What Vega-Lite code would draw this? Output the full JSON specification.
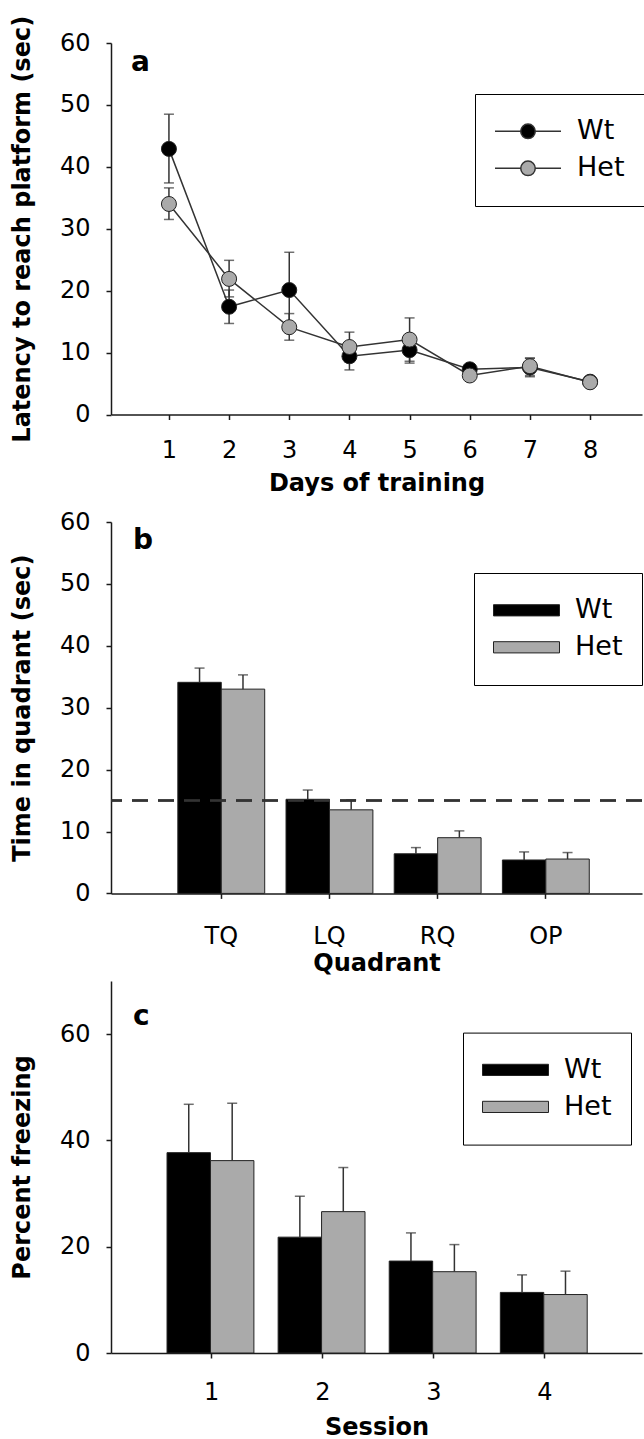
{
  "$schema": "https://vega.github.io/schema/vega-lite/v6.json",
  "padding": {"left": 10, "top": 15, "right": 0, "bottom": 0},
  "spacing": 14,
  "resolve": {"scale": {"fill": "independent"}, "legend": {"fill": "independent"}},
  "config": {
    "font": "DejaVu Sans",
    "view": {"stroke": null},
    "axis": {"grid": false, "domainColor": "#1a1a1a", "domainWidth": 1.5, "tickColor": "#1a1a1a", "tickWidth": 1.5, "tickSize": 5, "labelFont": "DejaVu Sans", "labelFontSize": 24, "labelColor": "#000", "titleFont": "DejaVu Sans", "titleFontSize": 24, "titleFontWeight": "bold", "titleColor": "#000"},
    "axisY": {"labelPadding": 16, "titlePadding": 25},
    "legend": {"labelFont": "DejaVu Sans", "labelFontSize": 27, "labelColor": "#000", "padding": 19, "clipHeight": 36.6, "rowPadding": 0, "labelOffset": 15, "strokeColor": "#000", "fillColor": "#fff", "symbolSize": 4356, "symbolStrokeWidth": 1.5, "symbolOpacity": 1},
    "title": {"font": "DejaVu Sans", "fontSize": 28, "fontWeight": "bold", "color": "#000", "anchor": "start", "frame": "group", "baseline": "alphabetic"}
  },
  "vconcat": [
    {
      "width": 531,
      "height": 371.5,
      "title": {"text": "a", "offset": -62, "dx": 20},
      "data": {"values": [
        {"day": 1, "group": "Wt", "mean": 42.9, "lo": 37.4, "hi": 48.5},
        {"day": 2, "group": "Wt", "mean": 17.4, "lo": 14.7, "hi": 20.1},
        {"day": 3, "group": "Wt", "mean": 20.1, "lo": 14.0, "hi": 26.2},
        {"day": 4, "group": "Wt", "mean": 9.4, "lo": 7.2, "hi": 11.6},
        {"day": 5, "group": "Wt", "mean": 10.4, "lo": 8.3, "hi": 12.5},
        {"day": 6, "group": "Wt", "mean": 7.3, "lo": 6.8, "hi": 7.8},
        {"day": 7, "group": "Wt", "mean": 7.6, "lo": 6.1, "hi": 9.1},
        {"day": 8, "group": "Wt", "mean": 5.3, "lo": 5.0, "hi": 5.6},
        {"day": 1, "group": "Het", "mean": 34.0, "lo": 31.5, "hi": 36.6},
        {"day": 2, "group": "Het", "mean": 21.9, "lo": 19.0, "hi": 24.9},
        {"day": 3, "group": "Het", "mean": 14.1, "lo": 12.0, "hi": 16.3},
        {"day": 4, "group": "Het", "mean": 10.9, "lo": 8.5, "hi": 13.3},
        {"day": 5, "group": "Het", "mean": 12.1, "lo": 8.6, "hi": 15.6},
        {"day": 6, "group": "Het", "mean": 6.3, "lo": 5.8, "hi": 6.8},
        {"day": 7, "group": "Het", "mean": 7.8, "lo": 6.3, "hi": 9.1},
        {"day": 8, "group": "Het", "mean": 5.2, "lo": 4.9, "hi": 5.5}
      ]},
      "encoding": {
        "x": {"field": "day", "type": "quantitative", "scale": {"domain": [0.037, 8.863], "nice": false, "zero": false}, "axis": {"values": [1, 2, 3, 4, 5, 6, 7, 8], "format": "d", "title": "Days of training", "labelPadding": 19, "titlePadding": 9}}
      },
      "layer": [
        {"mark": {"type": "rule", "color": "#333", "strokeWidth": 1.5},
         "encoding": {"y": {"field": "lo", "type": "quantitative", "scale": {"domain": [0, 60], "nice": false}, "axis": {"values": [0, 10, 20, 30, 40, 50, 60], "title": "Latency to reach platform (sec)"}}, "y2": {"field": "hi"}}},
        {"mark": {"type": "tick", "orient": "horizontal", "size": 10, "thickness": 1.5, "color": "#333"},
         "encoding": {"y": {"field": "hi", "type": "quantitative"}}},
        {"mark": {"type": "tick", "orient": "horizontal", "size": 10, "thickness": 1.5, "color": "#333"},
         "encoding": {"y": {"field": "lo", "type": "quantitative"}}},
        {"mark": {"type": "line", "color": "#333", "strokeWidth": 1.5},
         "encoding": {"y": {"field": "mean", "type": "quantitative"}, "detail": {"field": "group"}}},
        {"mark": {"type": "point", "filled": true, "size": 225, "stroke": "#222", "strokeWidth": 1, "opacity": 1},
         "encoding": {"y": {"field": "mean", "type": "quantitative"},
           "fill": {"field": "group", "type": "nominal", "scale": {"domain": ["Wt", "Het"], "range": ["#000000", "#aaaaaa"]},
             "legend": {"title": null, "orient": "none", "legendX": 364, "legendY": 51, "symbolStrokeColor": "#333", "symbolType": "M-1,0H-0.22M0.22,0H1M0.22,0A0.22,0.22,0,1,1,-0.22,0A0.22,0.22,0,1,1,0.22,0Z"}}}}
      ]
    },
    {
      "spacing": 5,
      "resolve": {"scale": {"fill": "independent"}, "legend": {"fill": "independent"}},
      "vconcat": [
        {
          "width": 531,
          "height": 371.4,
          "title": {"text": "b", "offset": -45, "dx": 22},
          "data": {"values": [
            {"quadrant": "TQ", "group": "Wt", "mean": 34.1, "hi": 36.4},
            {"quadrant": "TQ", "group": "Het", "mean": 33.0, "hi": 35.3},
            {"quadrant": "LQ", "group": "Wt", "mean": 15.2, "hi": 16.7},
            {"quadrant": "LQ", "group": "Het", "mean": 13.5, "hi": 15.1},
            {"quadrant": "RQ", "group": "Wt", "mean": 6.4, "hi": 7.4},
            {"quadrant": "RQ", "group": "Het", "mean": 9.0, "hi": 10.1},
            {"quadrant": "OP", "group": "Wt", "mean": 5.4, "hi": 6.7},
            {"quadrant": "OP", "group": "Het", "mean": 5.55, "hi": 6.6}
          ]},
          "encoding": {
            "x": {"field": "quadrant", "type": "nominal", "sort": ["TQ", "LQ", "RQ", "OP"], "scale": {"paddingInner": 0.197, "paddingOuter": 0.5525, "align": 0.559}, "axis": {"labelAngle": 0, "title": "Quadrant", "labelPadding": 26, "titlePadding": 3}},
            "xOffset": {"field": "group", "type": "nominal", "sort": ["Wt", "Het"], "scale": {"paddingInner": 0, "paddingOuter": 0}}
          },
          "layer": [
            {"mark": {"type": "bar", "stroke": "#222", "strokeWidth": 1},
             "encoding": {"y": {"field": "mean", "type": "quantitative", "scale": {"domain": [0, 60], "nice": false}, "axis": {"values": [0, 10, 20, 30, 40, 50, 60], "title": "Time in quadrant (sec)"}},
               "fill": {"field": "group", "type": "nominal", "scale": {"domain": ["Wt", "Het"], "range": ["#000000", "#aaaaaa"]},
                 "legend": {"title": null, "orient": "none", "legendX": 363, "legendY": 51, "symbolStrokeColor": "#222", "symbolStrokeWidth": 1, "symbolType": "M-1,-0.17H1V0.17H-1Z"}}}},
            {"mark": {"type": "rule", "color": "#333", "strokeWidth": 1.5},
             "encoding": {"y": {"field": "mean", "type": "quantitative"}, "y2": {"field": "hi"}}},
            {"mark": {"type": "tick", "orient": "horizontal", "size": 10, "thickness": 1.5, "color": "#333"},
             "encoding": {"y": {"field": "hi", "type": "quantitative"}}},
            {"mark": {"type": "rule", "color": "#333", "strokeWidth": 1.5, "strokeDash": [16, 10]},
             "encoding": {"y": {"datum": 15}, "x": null, "xOffset": null}}
          ]
        },
        {
          "width": 531,
          "height": 372,
          "title": {"text": "c", "offset": -50, "dx": 22},
          "data": {"values": [
            {"session": "1", "group": "Wt", "mean": 37.7, "hi": 46.8},
            {"session": "1", "group": "Het", "mean": 36.2, "hi": 47.0},
            {"session": "2", "group": "Wt", "mean": 21.8, "hi": 29.5},
            {"session": "2", "group": "Het", "mean": 26.6, "hi": 34.9},
            {"session": "3", "group": "Wt", "mean": 17.3, "hi": 22.6},
            {"session": "3", "group": "Het", "mean": 15.3, "hi": 20.4},
            {"session": "4", "group": "Wt", "mean": 11.4, "hi": 14.7},
            {"session": "4", "group": "Het", "mean": 11.0, "hi": 15.4}
          ]},
          "encoding": {
            "x": {"field": "session", "type": "nominal", "sort": ["1", "2", "3", "4"], "scale": {"paddingInner": 0.196, "paddingOuter": 0.4877, "align": 0.517}, "axis": {"labelAngle": 0, "title": "Session", "labelPadding": 22, "titlePadding": 11}},
            "xOffset": {"field": "group", "type": "nominal", "sort": ["Wt", "Het"], "scale": {"paddingInner": 0, "paddingOuter": 0}}
          },
          "layer": [
            {"mark": {"type": "bar", "stroke": "#222", "strokeWidth": 1},
             "encoding": {"y": {"field": "mean", "type": "quantitative", "scale": {"domain": [0, 70], "nice": false}, "axis": {"values": [0, 20, 40, 60], "title": "Percent freezing"}},
               "fill": {"field": "group", "type": "nominal", "scale": {"domain": ["Wt", "Het"], "range": ["#000000", "#aaaaaa"]},
                 "legend": {"title": null, "orient": "none", "legendX": 352, "legendY": 51.6, "symbolStrokeColor": "#222", "symbolStrokeWidth": 1, "symbolType": "M-1,-0.17H1V0.17H-1Z"}}}},
            {"mark": {"type": "rule", "color": "#333", "strokeWidth": 1.5},
             "encoding": {"y": {"field": "mean", "type": "quantitative"}, "y2": {"field": "hi"}}},
            {"mark": {"type": "tick", "orient": "horizontal", "size": 10, "thickness": 1.5, "color": "#333"},
             "encoding": {"y": {"field": "hi", "type": "quantitative"}}}
          ]
        }
      ]
    }
  ]
}
